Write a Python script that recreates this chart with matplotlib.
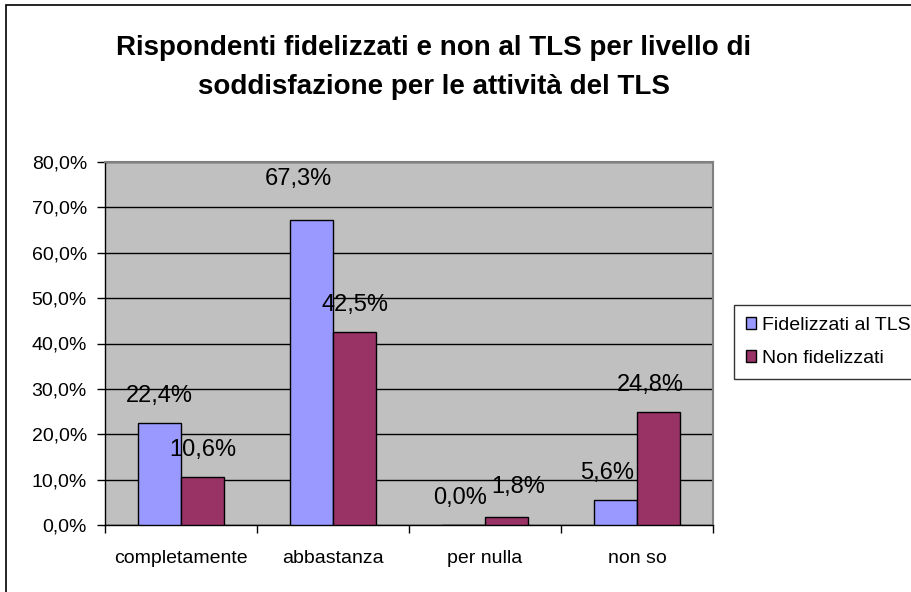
import matplotlib
matplotlib.use('Agg')
import matplotlib.pyplot as plt
from matplotlib.patches import Rectangle
import numpy as np

plt.rcParams['font.family'] = ['Liberation Sans', 'DejaVu Sans']

# dati
categorie = ['completamente', 'abbastanza', 'per nulla', 'non so']
fidelizzati = [22.4, 67.3, 0.0, 5.6]
non_fidelizzati = [10.6, 42.5, 1.8, 24.8]
serie_nomi = ['Fidelizzati al TLS', 'Non fidelizzati']
y_ticks = [0, 10, 20, 30, 40, 50, 60, 70, 80]

W, H = 912, 592
fig = plt.figure(figsize=(W / 100, H / 100), dpi=100)

# bordo esterno del grafico (tagliato a destra e in basso)
fig.patches.append(Rectangle((6 / W, -0.01), 1.0, 1 - 5 / H + 0.01, transform=fig.transFigure,
                             fill=False, edgecolor='black', linewidth=1.2))

ax = fig.add_axes([105 / W, (H - 525) / H, (713 - 105) / W, (525 - 162) / H])
ax.set_facecolor('#C0C0C0')
for s in ax.spines.values():
    s.set_color('#808080')
    s.set_linewidth(1.5)
ax.spines['left'].set_color('black')
ax.spines['left'].set_linewidth(1)
ax.spines['bottom'].set_color('black')
ax.spines['bottom'].set_linewidth(1)

x = np.arange(len(categorie))
w = 1 / 3.5
b1 = ax.bar(x - w / 2, fidelizzati, w, color='#9999FF', edgecolor='black', linewidth=1, zorder=3,
            label=serie_nomi[0])
b2 = ax.bar(x + w / 2, non_fidelizzati, w, color='#993366', edgecolor='black', linewidth=1, zorder=3,
            label=serie_nomi[1])

# spostamenti (in punti) di alcune etichette, come le ha messe Excel
nudge = {(0, 1): (-9, 10), (0, 2): (-2, 0), (1, 2): (8, 2), (0, 3): (-6, 0), (1, 3): (-6, 0)}

# etichette dei valori sopra le barre
for si, (bars, vals) in enumerate(((b1, fidelizzati), (b2, non_fidelizzati))):
    for ci, (r, v) in enumerate(zip(bars, vals)):
        dx, dy = nudge.get((si, ci), (0, 0))
        ax.annotate(f'{v:.1f}%'.replace('.', ','), (r.get_x() + r.get_width() / 2, v),
                    xytext=(dx, 19.5 + dy), textcoords='offset points', ha='center', va='center',
                    fontsize=17, zorder=5, annotation_clip=False)

ax.set_xlim(-0.5, len(categorie) - 0.5)
ax.set_ylim(0, 80)
ax.set_yticks(y_ticks)
ax.set_yticklabels([f'{t:.1f}%'.replace('.', ',') for t in y_ticks], fontsize=14)
ax.yaxis.grid(True, color='black', linewidth=1, zorder=1)
ax.set_axisbelow(True)
ax.tick_params(axis='y', direction='out', length=6, width=1, pad=7)

ax.set_xticks(x)
ax.set_xticklabels(categorie, fontsize=14)
ax.tick_params(axis='x', which='major', length=0, pad=18)
ax.set_xticks(np.arange(len(categorie) + 1) - 0.5, minor=True)
ax.tick_params(axis='x', which='minor', direction='out', length=6, width=1)

fig.text(434 / W, 1 - 48 / H,
         'Rispondenti fidelizzati e non al TLS per livello di', ha='center', va='center',
         fontsize=20, fontweight='bold')
fig.text(434 / W, 1 - 87 / H,
         'soddisfazione per le attività del TLS', ha='center', va='center',
         fontsize=20, fontweight='bold')

leg = fig.legend(handles=[b1, b2], loc='upper left', bbox_to_anchor=(734 / W, 1 - 305 / H),
                 fontsize=14, frameon=True, fancybox=False, edgecolor='black',
                 handlelength=0.55, handleheight=0.55, handletextpad=0.3, labelspacing=0.85,
                 borderpad=0.6, borderaxespad=0)
leg.get_frame().set_linewidth(1)

fig.savefig('out.png', dpi=100)
